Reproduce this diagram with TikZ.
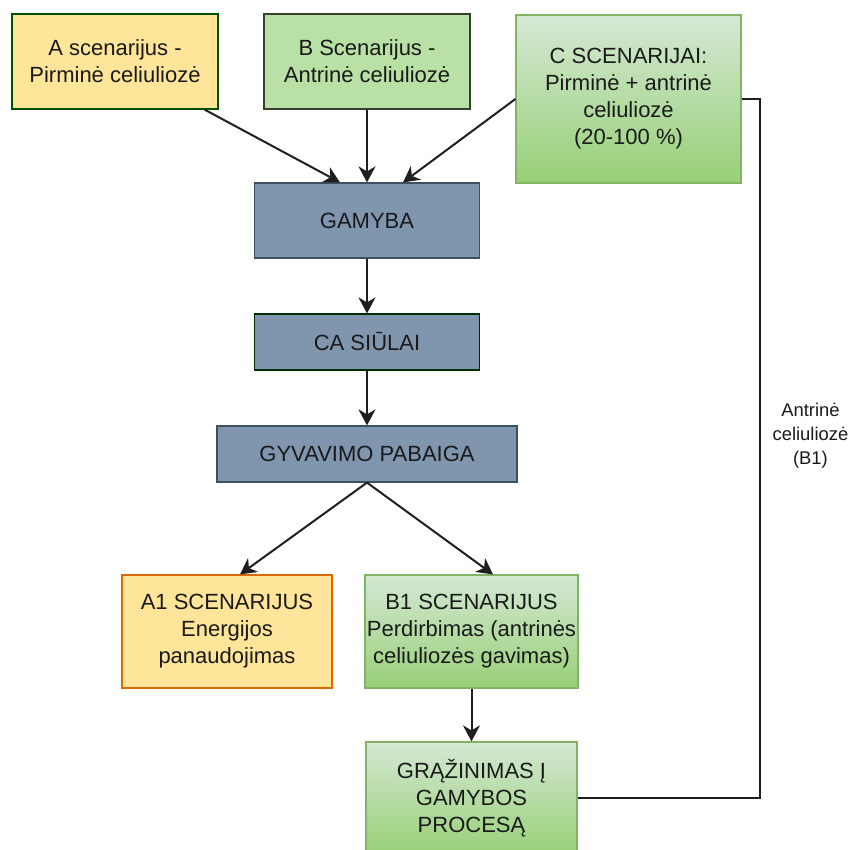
\documentclass[tikz,border=0pt]{standalone}
\usepackage{fontspec}
\setmainfont{Liberation Sans}
\usetikzlibrary{positioning,arrows.meta}

\definecolor{geltona}{HTML}{FFE599}
\definecolor{zalia}{HTML}{B9E0A5}
\definecolor{zaliaVirsus}{HTML}{D5E8D4}
\definecolor{zaliaApacia}{HTML}{97D077}
\definecolor{zaliaKrastas}{HTML}{82B366}
\definecolor{melyna}{HTML}{8095AE}
\definecolor{melynaKrastas}{HTML}{3F4F60}
\definecolor{tekstas}{HTML}{1A1A1A}

\tikzset{
  box/.style={draw, line width=1.2pt, align=center, text=tekstas, inner sep=2pt,
              font=\fontsize{22}{27}\selectfont},
  yellowbox/.style={box, fill=geltona},
  greenbox/.style={box, fill=zalia, draw=black!60!zalia!70!black},
  gradbox/.style={box, draw=zaliaKrastas, top color=zaliaVirsus, bottom color=zaliaApacia},
  bluebox/.style={box, fill=melyna, draw=melynaKrastas},
  line/.style={line width=2pt, draw=black!88},
  arr/.style={line, -{Stealth[length=16pt,width=17pt,inset=5pt]}}
}

\begin{document}
\begin{tikzpicture}[x=1pt,y=-1pt,on grid]
    \clip (0,0) rectangle (848,850);
    \node[yellowbox,draw=black!30!green!45!black,minimum width=206pt,minimum height=95pt]
          (a) at (115,61.5) {A scenarijus -\\Pirminė celiuliozė};
    \node[greenbox,minimum width=206pt,minimum height=95pt]
          (b) [right=252pt of a] {B Scenarijus -\\Antrinė celiuliozė};
    \node[gradbox,minimum width=225pt,minimum height=168pt]
          (c) at (628.5,99) {C SCENARIJAI:\\Pirminė + antrinė\\celiuliozė\\(20-100 \%)};
    \node[bluebox,minimum width=225pt,minimum height=75pt]
          (gamyba) at (367,220.5) {GAMYBA};
    \node[bluebox,draw=black!70!green!60!black,minimum width=225pt,minimum height=56pt]
          (siulai) [below=121.5pt of gamyba] {CA SIŪLAI};
    \node[bluebox,minimum width=300pt,minimum height=56pt]
          (pabaiga) [below=112pt of siulai] {GYVAVIMO PABAIGA};
    \node[yellowbox,draw=orange!85!black,minimum width=210pt,minimum height=113pt]
          (a1) [below left=177.5pt and 140pt of pabaiga] {A1 SCENARIJUS\\Energijos\\panaudojimas};
    \node[gradbox,minimum width=211pt,minimum height=113pt]
          (b1) [below right=177.5pt and 104.5pt of pabaiga] {B1 SCENARIJUS\\Perdirbimas (antrinės\\celiuliozės gavimas)};
    \node[gradbox,minimum width=211pt,minimum height=112pt]
          (grazinimas) [below=166.5pt of b1] {GRĄŽINIMAS Į\\GAMYBOS\\PROCESĄ};

    \draw[arr] ([xshift=-14pt]a.south east) -- ([xshift=-27pt]gamyba.north);
    \draw[arr] (b.south) -- (gamyba.north);
    \draw[arr] (c.west) -- ([xshift=36pt]gamyba.north);
    \draw[arr] (gamyba) -- (siulai);
    \draw[arr] (siulai) -- (pabaiga);
    \draw[arr] (pabaiga.south) -- ([xshift=13pt]a1.north);
    \draw[arr] (pabaiga.south) -- ([xshift=21.5pt]b1.north);
    \draw[arr] (b1) -- (grazinimas);
    \draw[line] (c.east) -- ++(18,0) |- (grazinimas.east)
          node[pos=0.241, anchor=west, xshift=12pt, inner sep=0pt, align=center, text=tekstas,
               font=\fontsize{18.4}{24}\selectfont] (b1label) {Antrinė\\celiuliozė\\(B1)};
\end{tikzpicture}
\end{document}
